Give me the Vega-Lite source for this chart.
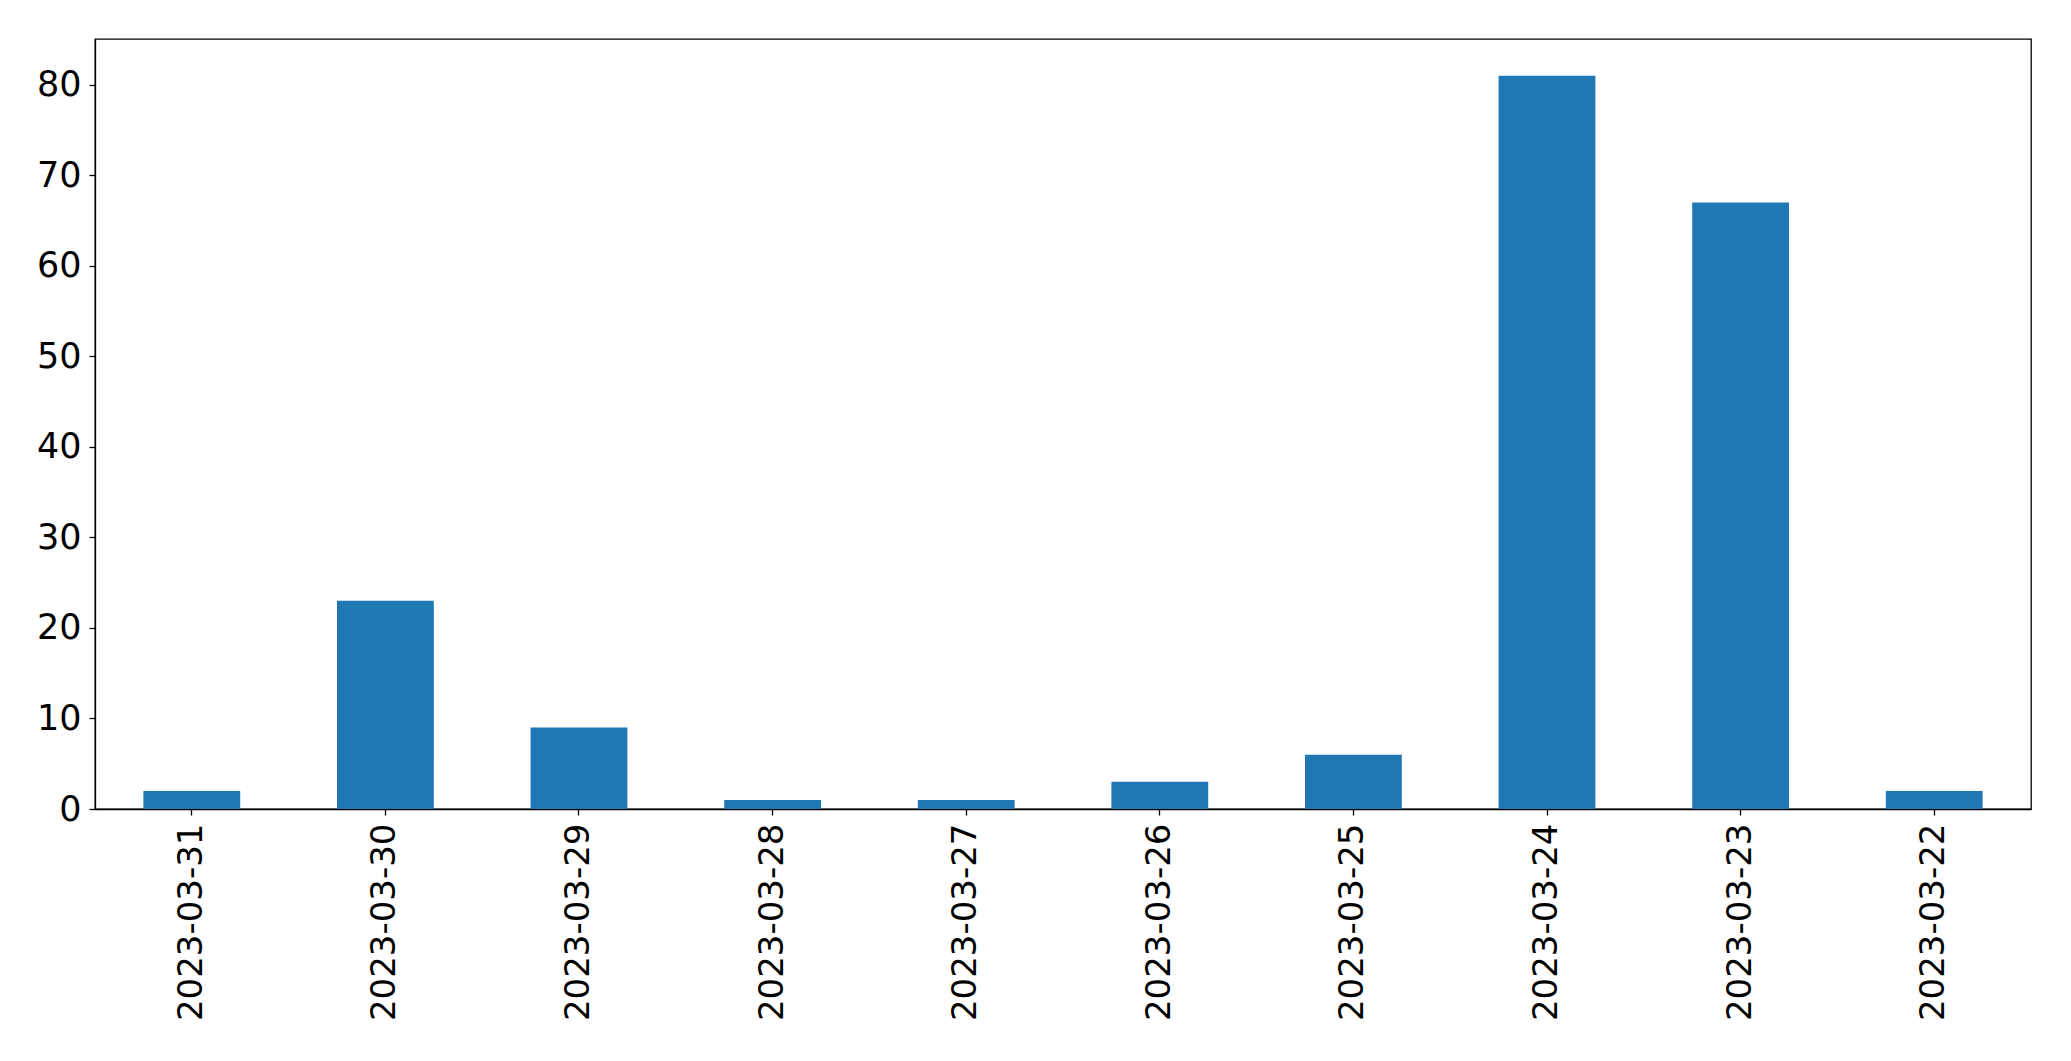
{
  "$schema": "https://vega.github.io/schema/vega-lite/v6.json",
  "autosize": {"type": "none"},
  "width": 1936,
  "height": 770,
  "padding": {"left": 95, "top": 39, "right": 40, "bottom": 252},
  "background": "white",
  "data": {
    "values": [
      {"date": "2023-03-31", "count": 2},
      {"date": "2023-03-30", "count": 23},
      {"date": "2023-03-29", "count": 9},
      {"date": "2023-03-28", "count": 1},
      {"date": "2023-03-27", "count": 1},
      {"date": "2023-03-26", "count": 3},
      {"date": "2023-03-25", "count": 6},
      {"date": "2023-03-24", "count": 81},
      {"date": "2023-03-23", "count": 67},
      {"date": "2023-03-22", "count": 2}
    ]
  },
  "mark": {"type": "bar", "color": "#1f77b4"},
  "encoding": {
    "x": {
      "field": "date",
      "type": "nominal",
      "sort": null,
      "scale": {"paddingInner": 0.5, "paddingOuter": 0.25},
      "axis": {
        "title": null,
        "labelAngle": -90,
        "labelFont": "DejaVu Sans",
        "labelFontSize": 34,
        "labelLimit": 0,
        "labelColor": "black",
        "labelPadding": 8,
        "tickColor": "black",
        "tickSize": 6,
        "tickWidth": 1.3,
        "domainColor": "black",
        "domainWidth": 1.3,
        "grid": false
      }
    },
    "y": {
      "field": "count",
      "type": "quantitative",
      "scale": {"domain": [0, 85.05], "nice": false},
      "axis": {
        "title": null,
        "values": [0, 10, 20, 30, 40, 50, 60, 70, 80],
        "labelFont": "DejaVu Sans",
        "labelFontSize": 35,
        "labelColor": "black",
        "labelPadding": 8,
        "tickColor": "black",
        "tickSize": 6,
        "tickWidth": 1.3,
        "domainColor": "black",
        "domainWidth": 1.3,
        "grid": false
      }
    }
  },
  "config": {
    "view": {"stroke": "black", "strokeWidth": 1.3}
  }
}
